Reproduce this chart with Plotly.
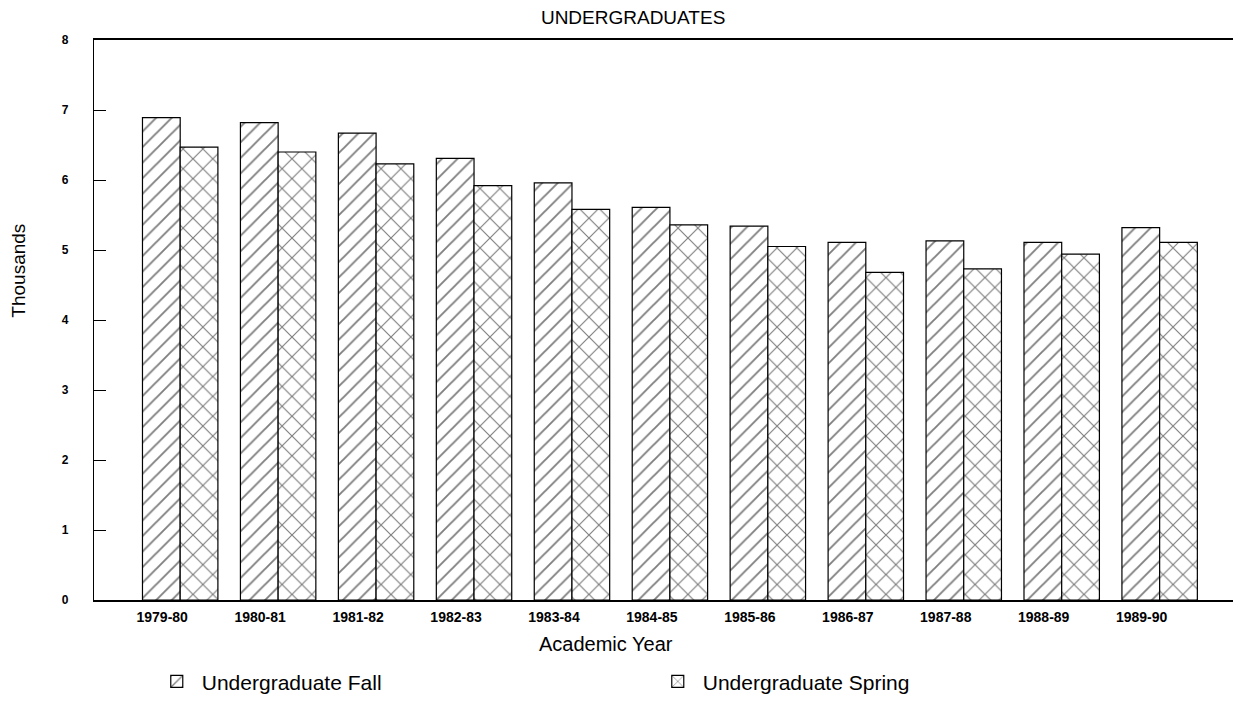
import plotly.graph_objects as go

years = ["1979-80", "1980-81", "1981-82", "1982-83", "1983-84", "1984-85",
         "1985-86", "1986-87", "1987-88", "1988-89", "1989-90"]
fall = [6.89, 6.82, 6.67, 6.31, 5.96, 5.61, 5.34, 5.11, 5.13, 5.11, 5.32]
spring = [6.47, 6.40, 6.23, 5.92, 5.58, 5.36, 5.05, 4.68, 4.73, 4.94, 5.11]
y_ticks = [0, 1, 2, 3, 4, 5, 6, 7, 8]

FONT = "Liberation Sans, Arial, sans-serif"

fig = go.Figure()
fig.add_trace(go.Bar(
    x=years, y=fall, name="Undergraduate Fall",
    marker=dict(color="white", line=dict(color="black", width=1.2),
                pattern=dict(shape="/", fgcolor="black", bgcolor="white",
                             size=11, solidity=0.17, fillmode="overlay")),
))
fig.add_trace(go.Bar(
    x=years, y=spring, name="Undergraduate Spring",
    marker=dict(color="white", line=dict(color="black", width=1.2),
                pattern=dict(shape="x", fgcolor="black", bgcolor="white",
                             size=14, solidity=0.16, fillmode="overlay")),
))

fig.update_layout(
    width=1233, height=696,
    margin=dict(l=86, r=3, t=32, b=104, autoexpand=False),
    paper_bgcolor="white", plot_bgcolor="white",
    barmode="group", bargap=0.23, bargroupgap=0,
    font=dict(family=FONT, color="black"),
    title=dict(text="UNDERGRADUATES", x=0.507, xanchor="center", y=0.986,
               yanchor="middle", font=dict(size=19, family=FONT)),
    showlegend=True,
    legend=dict(orientation="h", x=0.0505, xanchor="left", y=-0.146,
                yanchor="middle", entrywidth=446, entrywidthmode="pixels",
                font=dict(size=21, family=FONT), itemwidth=40,
                bgcolor="rgba(0,0,0,0)"),
    annotations=[
        dict(text="Thousands", xref="paper", yref="paper", x=-0.066, y=0.589,
             xanchor="center", yanchor="middle", textangle=-90, showarrow=False,
             font=dict(size=19, family=FONT)),
        dict(text="Academic Year", xref="paper", yref="paper", x=0.4476, y=-0.0786,
             xanchor="center", yanchor="middle", showarrow=False,
             font=dict(size=20, family=FONT)),
    ],
)
fig.update_xaxes(
    type="category", range=[-0.88, 10.8],
    showline=True, linecolor="black", linewidth=1.5, mirror=True,
    ticks="", showgrid=False,
    tickfont=dict(size=14, family=FONT, weight="bold"), ticklabelshift=-18,
    ticklabelstandoff=3,
)
fig.update_yaxes(
    range=[0, 8], tickvals=y_ticks, showgrid=False, zeroline=False,
    showline=True, linecolor="black", linewidth=1.2,
    ticks="inside", ticklen=12, tickcolor="black",
    tickfont=dict(size=12, family=FONT, weight="bold"), ticklabelstandoff=22,
)

fig.write_html("out.html")
